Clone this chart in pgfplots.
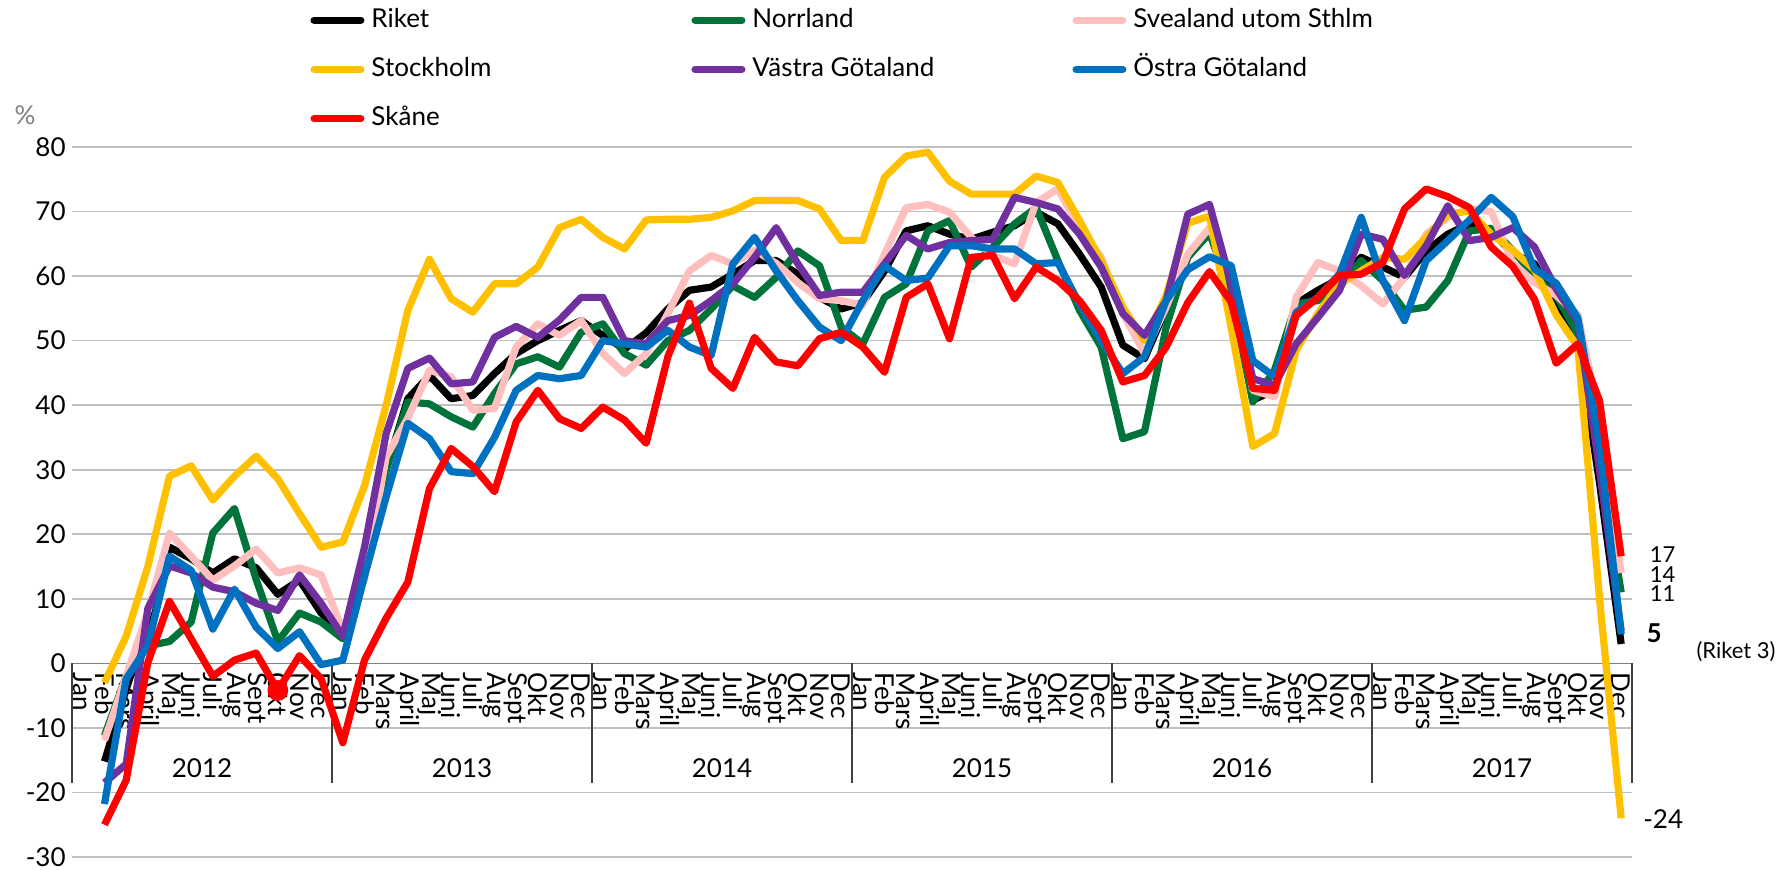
\documentclass[border=0pt]{standalone}
\usepackage{fontspec}
\setmainfont{Lato}
\usepackage{pgfplots}
\usepackage{pgfplotstable}
\pgfplotsset{compat=1.18}
\definecolor{cNorr}{HTML}{00733A}
\definecolor{cSvea}{HTML}{FFBFBF}
\definecolor{cSthlm}{HTML}{FFC000}
\definecolor{cVG}{HTML}{7030A0}
\definecolor{cOG}{HTML}{0070C0}
\definecolor{cSkane}{HTML}{FF0000}
\newcommand{\fs}{\fontsize{13pt}{15pt}\selectfont}

\pgfplotstableread{
i riket norr svea sthlm vg og skane
1 -15.2 -11.2 -11.9 -3 -18.5 -21.8 -25
2 -4 -2 -2 4.2 -15.6 -2.4 -18.1
3 6 2.7 8 15 8.5 2.7 0.1
4 18 3.4 20.2 29 15.1 16.6 9.6
5 16.2 6.4 16.6 30.6 14 14.4 3.8
6 14 20.2 12.9 25.3 11.8 5.3 -2
7 16.2 24 15.1 29 11.1 11.5 0.5
8 14.8 13 17.7 32.1 9.3 5.6 1.6
9 10.7 3.4 14 28.6 8.2 2.3 -4.2
10 12.9 7.8 14.8 23.2 13.7 4.9 1.2
11 7.8 6.4 13.7 18 9.3 -0.2 -2.4
12 4.5 3.8 5 18.8 4.2 0.5 -12.3
13 15 14 13 27.5 18 13.5 0.5
14 30 30 32 40 35.6 25.8 7
15 41 40.5 38 54.7 45.7 37.2 12.6
16 44.6 40.2 45.4 62.6 47.3 34.8 27.1
17 41 38.2 44.4 56.5 43.3 29.7 33.3
18 41.5 36.6 39.2 54.4 43.6 29.4 30.5
19 44.9 41.8 39.5 58.8 50.5 35 26.6
20 48 46.4 49 58.8 52.2 42.3 37.4
21 50 47.5 52.6 61.4 50.5 44.6 42.3
22 51.6 45.9 50.8 67.5 53.2 44.1 37.9
23 53.1 51.3 53.1 68.8 56.7 44.6 36.4
24 50.8 52.6 48 66 56.7 50 39.7
25 48.7 48 44.9 64.2 50 49.5 37.7
26 51.2 46.2 48 68.7 49.5 49 34.1
27 54.9 50 54.2 68.8 53.1 51.6 47.5
28 57.8 51.6 60.8 68.8 53.9 49 55.8
29 58.3 54.9 63.2 69.1 56.2 47.7 45.7
30 60.3 58.5 61.9 70.1 58.8 61.9 42.6
31 62.4 56.7 64 71.7 62.9 66 50.5
32 62.4 59.8 62 71.7 67.5 60.8 46.7
33 60.3 63.9 59 71.7 61.9 56.2 46.1
34 56.7 61.6 56.5 70.4 57 52.1 50.3
35 54.9 52.1 56.2 65.5 57.5 50 51.3
36 55.9 49.5 55.5 65.5 57.5 56.2 49
37 60.8 56.7 63.4 75.3 61.9 61.6 45.1
38 67 58.8 70.6 78.6 66.3 59.3 56.7
39 67.8 67 71.1 79.2 64.2 59.7 58.8
40 66.5 68.6 69.9 74.7 65.2 64.7 50.3
41 65.7 61.4 66 72.7 65.5 64.7 62.9
42 66.8 64.5 63.2 72.7 65.7 64.2 63.2
43 67.8 68.1 61.9 72.7 72.2 64.2 56.5
44 69.9 70.6 71.4 75.5 71.4 61.9 61.4
45 68.1 62.4 73.5 74.5 70.4 62.1 59.3
46 63.4 54.7 67.5 68.6 66.5 55.7 56.2
47 58.3 49 62.9 62.4 61.4 50 51.6
48 49.3 34.8 54.2 55.2 54.2 44.9 43.6
49 47.2 35.9 48 50 50.8 47.5 44.6
50 55 52.1 55.2 57 56.2 56.2 49
51 63 62.9 63.4 68.2 69.6 61 55.9
52 66.7 66.7 67.5 69.3 71.1 63 60.7
53 58 57.2 59.8 52 58.8 61.6 56
54 40.8 40.5 42.3 33.6 44.1 46.9 42.6
55 42.3 45.4 41.3 35.6 43.1 44.4 42.3
56 55.7 55.7 56.7 48.5 49.5 54.4 53.9
57 57.8 56.2 62.1 54.2 53.6 56.7 56.7
58 59.6 58.3 60.8 58.8 57.8 60.3 60.1
59 62.9 62.4 58.5 60.8 66.5 69.1 60.3
60 61.4 59.3 55.7 62.9 65.7 59.3 62.1
61 59.8 54.7 59.8 62.6 60.1 53.1 70.4
62 63.9 55.2 66.5 66 64.7 62.4 73.5
63 66.5 59.3 69.1 69.6 70.9 65.5 72.3
64 68.1 67 70.4 70.1 65.5 68.7 70.6
65 67 67.4 70 66.5 66 72.2 64.5
66 63.5 64 62 64 67.5 69.2 61.5
67 61.9 60 59 61 64.5 61.1 56.4
68 56 57 57 54 58 58.9 46.5
69 50.2 51 54 49 53 53.5 49.5
70 28 32 38 10 30 34 40.7
71 3 11 14 -24 5 4.5 16.6
}\data

\begin{document}
\begin{tikzpicture}
\useasboundingbox (-36pt,-6.5pt) rectangle (854.5pt,428.5pt);
\begin{axis}[
  at={(0pt,0pt)}, anchor=south west,
  scale only axis, width=780pt, height=355pt,
  xmin=-0.5, xmax=71.5, ymin=-30, ymax=80,
  axis x line*=middle, axis y line*=left,
  x axis line style={-, draw=gray, line width=0.8pt},
  y axis line style={draw=none},
  hide obscured x ticks=false, hide obscured y ticks=false,
  xtick={0,...,71},
  xticklabels={Jan,Feb,Mars,April,Maj,Juni,Juli,Aug,Sept,Okt,Nov,Dec,
               Jan,Feb,Mars,April,Maj,Juni,Juli,Aug,Sept,Okt,Nov,Dec,
               Jan,Feb,Mars,April,Maj,Juni,Juli,Aug,Sept,Okt,Nov,Dec,
               Jan,Feb,Mars,April,Maj,Juni,Juli,Aug,Sept,Okt,Nov,Dec,
               Jan,Feb,Mars,April,Maj,Juni,Juli,Aug,Sept,Okt,Nov,Dec,
               Jan,Feb,Mars,April,Maj,Juni,Juli,Aug,Sept,Okt,Nov,Dec},
  ytick={-30,-20,...,80},
  yticklabels={-30,-20,-10,0,10,20,30,40,50,60,70,80},
  major tick length=0pt,
  ymajorgrids, grid style={draw=gray!50, line width=0.8pt},
  xticklabel style={rotate=-90, anchor=west, inner xsep=4.5pt, inner ysep=0pt, font=\fs},
  yticklabel style={font=\fs, inner sep=0pt, xshift=-3pt},
  clip=false,
  legend columns=3,
  legend style={at={(axis description cs:0.1526,1.196)}, anchor=north west,
    draw=none, fill=none, inner sep=0pt, row sep=12.6pt, font=\fs,
    nodes={inner sep=0pt, text height=9.5pt, text depth=2.5pt},
    /tikz/every odd column/.append style={column sep=3.5pt}},
  legend image code/.code={\draw[#1, line cap=round] (1.8pt,0pt) -- (25.2pt,0pt);},
  every axis plot/.append style={line width=3.6pt, line join=round, mark=none},
]
\draw[black!75, line width=0.6pt] (axis cs:-0.5,0) -- (axis cs:-0.5,-18.6);
\draw[black!75, line width=0.6pt] (axis cs:11.5,0) -- (axis cs:11.5,-18.6);
\draw[black!75, line width=0.6pt] (axis cs:23.5,0) -- (axis cs:23.5,-18.6);
\draw[black!75, line width=0.6pt] (axis cs:35.5,0) -- (axis cs:35.5,-18.6);
\draw[black!75, line width=0.6pt] (axis cs:47.5,0) -- (axis cs:47.5,-18.6);
\draw[black!75, line width=0.6pt] (axis cs:59.5,0) -- (axis cs:59.5,-18.6);
\draw[black!75, line width=0.6pt] (axis cs:71.5,0) -- (axis cs:71.5,-18.6);

\addplot[draw=black] table[x=i, y=riket] {\data};
\addlegendentry{\makebox[160pt][l]{Riket}}
\addplot[draw=cNorr] table[x=i, y=norr] {\data};
\addlegendentry{\makebox[160pt][l]{Norrland}}
\addplot[draw=cSvea] table[x=i, y=svea] {\data};
\addlegendentry{\makebox[160pt][l]{Svealand utom Sthlm}}
\addplot[draw=cSthlm] table[x=i, y=sthlm] {\data};
\addlegendentry{\makebox[160pt][l]{Stockholm}}
\addplot[draw=cVG] table[x=i, y=vg] {\data};
\addlegendentry{\makebox[160pt][l]{Västra Götaland}}
\addplot[draw=cOG] table[x=i, y=og] {\data};
\addlegendentry{\makebox[160pt][l]{Östra Götaland}}
\addplot[draw=cSkane] table[x=i, y=skane] {\data};
\addlegendentry{\makebox[160pt][l]{Skåne}}
\addplot[only marks, mark=*, mark size=3.4pt, color=cSkane, forget plot] coordinates {(9,-4.2)};

\node[font=\fs] at (axis cs:5.5,-16.3) {2012};
\node[font=\fs] at (axis cs:17.5,-16.3) {2013};
\node[font=\fs] at (axis cs:29.5,-16.3) {2014};
\node[font=\fs] at (axis cs:41.5,-16.3) {2015};
\node[font=\fs] at (axis cs:53.5,-16.3) {2016};
\node[font=\fs] at (axis cs:65.5,-16.3) {2017};

\node[font=\fs, text=gray] at (axis cs:-2.67,85) {\%};

\node[font=\fontsize{11pt}{13pt}\selectfont, anchor=west, inner sep=0pt] at (axis cs:72.3,16.8) {17};
\node[font=\fontsize{11pt}{13pt}\selectfont, anchor=west, inner sep=0pt] at (axis cs:72.3,13.8) {14};
\node[font=\fontsize{11pt}{13pt}\selectfont, anchor=west, inner sep=0pt] at (axis cs:72.3,10.8) {11};
\node[font=\fs\bfseries, anchor=west, inner sep=0pt] at (axis cs:72.15,4.6) {5};
\node[font=\fontsize{11pt}{13pt}\selectfont, anchor=west, inner sep=0pt] at (axis cs:74.46,1.8) {(Riket 3)};
\node[font=\fs, anchor=west, inner sep=0pt] at (axis cs:72.0,-24.2) {-24};
\end{axis}
\end{tikzpicture}
\end{document}
